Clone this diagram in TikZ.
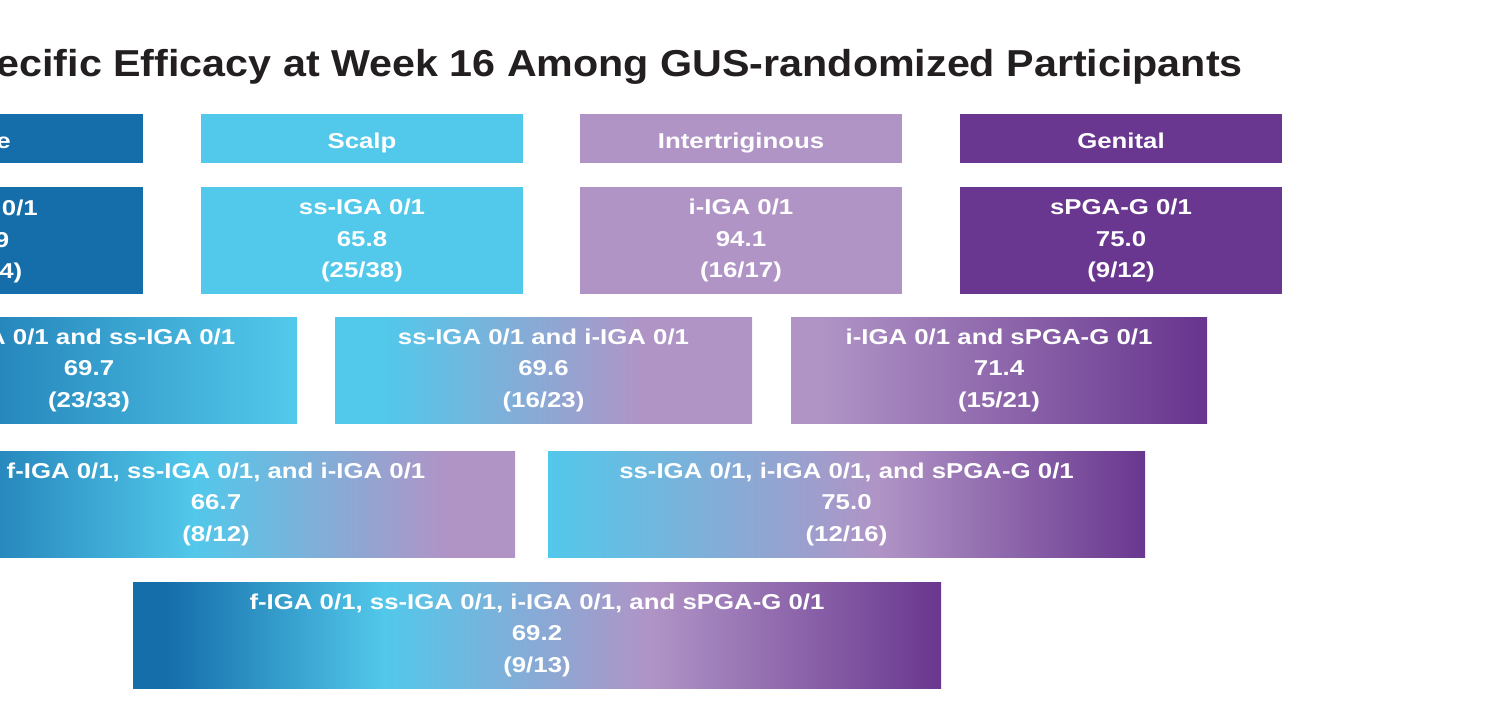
\documentclass[tikz,border=0pt]{standalone}
\usepackage{fontspec}
\setmainfont{Liberation Sans}
\newfontfamily\boxfont{Liberation Sans}[FakeStretch=1.2]
\newfontfamily\titlefont{Liberation Sans}[FakeStretch=1.1]
\definecolor{fb}{HTML}{156DAA}
\definecolor{lb}{HTML}{52C8EA}
\definecolor{lav}{HTML}{B094C6}
\definecolor{pu}{HTML}{69378F}
\definecolor{ink}{HTML}{231F20}
% stops: 25bp = left edge of box, 75bp = right edge
\pgfdeclarehorizontalshading{shA}{100bp}{color(0bp)=(fb); color(25bp)=(fb); color(74bp)=(lb); color(100bp)=(lb)}
\pgfdeclarehorizontalshading{shB}{100bp}{color(0bp)=(lb); color(31bp)=(lb); color(62bp)=(lav); color(100bp)=(lav)}
\pgfdeclarehorizontalshading{shC}{100bp}{color(0bp)=(lav); color(28.5bp)=(lav); color(73.6bp)=(pu); color(100bp)=(pu)}
\pgfdeclarehorizontalshading{shD}{100bp}{color(0bp)=(fb); color(25bp)=(fb); color(48.2bp)=(lb); color(69.2bp)=(lav); color(100bp)=(lav)}
\pgfdeclarehorizontalshading{shE}{100bp}{color(0bp)=(lb); color(25bp)=(lb); color(52.6bp)=(lav); color(75bp)=(pu); color(100bp)=(pu)}
\pgfdeclarehorizontalshading{shF}{100bp}{color(0bp)=(fb); color(27bp)=(fb); color(40.6bp)=(lb); color(57bp)=(lav); color(75bp)=(pu); color(100bp)=(pu)}
\tikzset{
  boxtxt/.style={text=white, inner sep=0pt, font=\boxfont\bfseries\fontsize{21.5}{31.5}\selectfont},
  box/.style={boxtxt, align=center, minimum height=106pt},
  hdr/.style={boxtxt, minimum height=49pt, minimum width=322pt, text height=16pt, text depth=0pt},
  cell/.style={box, minimum width=322pt, minimum height=107pt},
  frag/.style={boxtxt, anchor=base east},
}
\begin{document}
\begin{tikzpicture}[x=1pt,y=-1pt]
\useasboundingbox (0,0) rectangle (1493,703);
\clip (0,0) rectangle (1493,703);
% title
\node[anchor=base east, inner sep=0pt, text=ink, font=\titlefont\bfseries\fontsize{37.5}{45}\selectfont] (title) at (1243,77) {ecific Efficacy at Week 16 Among GUS-randomized Participants};
% headers
\node[hdr, fill=fb] (hface) at (-18,138.5) {};
\node[frag] (tface) at (11,149) {Face};
\node[hdr, fill=lb] (hscalp) at (362,138.5) {\raisebox{-2pt}{Scalp}};
\node[hdr, fill=lav] (hint) at (741,138.5) {\raisebox{-2pt}{Intertriginous}};
\node[hdr, fill=pu] (hgen) at (1121,138.5) {\raisebox{-2pt}{Genital}};
% single regions
\node[cell, fill=fb] (bf) at (-18,240.5) {};
\node[frag] (bf1) at (38,216) {0/1};
\node[frag] (bf2) at (9.5,247.5) {9};
\node[frag] (bf3) at (22.5,279) {4)};
\node[cell, fill=lb] (bs) at (362,240.5) {ss-IGA 0/1\\65.8\\(25/38)};
\node[cell, fill=lav] (bi) at (741,240.5) {i-IGA 0/1\\94.1\\(16/17)};
\node[cell, fill=pu] (bg) at (1121,240.5) {sPGA-G 0/1\\75.0\\(9/12)};
% pairs
\node[box, minimum width=416pt, shade, shading=shA] (bfs) at (89,370) {f-IGA 0/1 and ss-IGA 0/1\\69.7\\(23/33)};
\node[box, minimum width=417pt, shade, shading=shB] (bsi) at (543.5,370) {ss-IGA 0/1 and i-IGA 0/1\\69.6\\(16/23)};
\node[box, minimum width=416pt, shade, shading=shC] (big) at (999,370) {i-IGA 0/1 and sPGA-G 0/1\\71.4\\(15/21)};
% triples
\node[box, minimum width=598pt, shade, shading=shD] (bfsi) at (216,504) {f-IGA 0/1, ss-IGA 0/1, and i-IGA 0/1\\66.7\\(8/12)};
\node[box, minimum width=597pt, shade, shading=shE] (bsig) at (846.5,504) {ss-IGA 0/1, i-IGA 0/1, and sPGA-G 0/1\\75.0\\(12/16)};
% all four
\node[box, minimum width=808pt, shade, shading=shF] (ball) at (537,635) {f-IGA 0/1, ss-IGA 0/1, i-IGA 0/1, and sPGA-G 0/1\\69.2\\(9/13)};
\end{tikzpicture}
\end{document}
